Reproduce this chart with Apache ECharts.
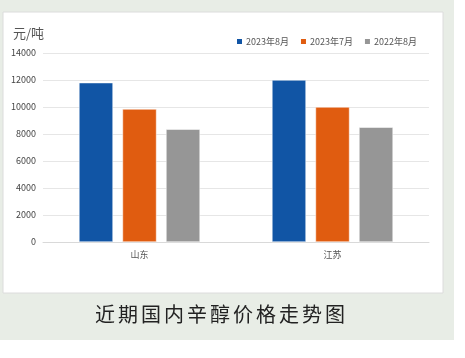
<!DOCTYPE html>
<html><head><meta charset="utf-8">
<script src="https://cdn.jsdelivr.net/npm/echarts@6/dist/echarts.min.js"></script>
<style>html,body{margin:0;padding:0;background:#fff}#c{width:465px;height:358px}</style>
</head><body><div id="c"></div>
<script>
const categories = ['山东', '江苏'];
const seriesNames = ['2023年8月', '2023年7月', '2022年8月'];
const aug2023 = [11800, 12000];
const jul2023 = [9850, 10000];
const aug2022 = [8350, 8500];
const colors = ['#1155a5', '#e05c10', '#969696'];
const titleText = '近期国内辛醇价格走势图';
const ff = '"Noto Sans CJK SC", "Noto Sans", sans-serif';
const chart = echarts.init(document.getElementById('c'), null, {renderer: 'canvas'});
const vals = [aug2023, jul2023, aug2022];
const titleChars = Array.from(titleText).map((ch, i) => ({
  type: 'text', silent: true, x: 95 + i * 23, y: 304,
  style: {text: ch, fill: '#222', font: '20px ' + ff}
}));
chart.setOption({
  animation: false,
  color: colors,
  graphic: [
    {type: 'rect', z: -10, shape: {x: 0, y: 0, width: 454, height: 340}, style: {fill: '#e8ede6'}, silent: true},
    {type: 'rect', z: -9, shape: {x: 3, y: 12, width: 440, height: 281}, style: {fill: '#ffffff', stroke: '#dcdcdc', lineWidth: 1}, silent: true},
    {type: 'text', x: 13, y: 27, silent: true, style: {text: '元/吨', fill: '#555', font: '13px ' + ff}}
  ].concat(titleChars),
  legend: {
    top: 32, left: 230, itemWidth: 7, itemHeight: 7, itemGap: 10, icon: 'rect',
    textStyle: {fontSize: 9, color: '#555', fontFamily: ff, padding: [0, 0, 0, -2]},
    data: seriesNames
  },
  grid: {left: 43, right: 36, top: 53, bottom: 116, containLabel: false},
  xAxis: {
    type: 'category', data: categories,
    axisLine: {lineStyle: {color: '#d9d9d9'}}, axisTick: {show: false},
    axisLabel: {fontSize: 9, color: '#555', fontFamily: ff, margin: 8}
  },
  yAxis: {
    type: 'value', min: 0, max: 14000, interval: 2000,
    axisLine: {show: false}, axisTick: {show: false},
    splitLine: {lineStyle: {color: '#e6e6e6'}},
    axisLabel: {fontSize: 9, color: '#444', fontFamily: ff, margin: 7, formatter: v => String(v)}
  },
  series: seriesNames.map((n, i) => ({
    name: n, type: 'bar', data: vals[i], barWidth: 34, barGap: '28%',
    itemStyle: {color: colors[i], borderColor: '#ffffff', borderWidth: 0.5}
  }))
});
</script></body></html>
